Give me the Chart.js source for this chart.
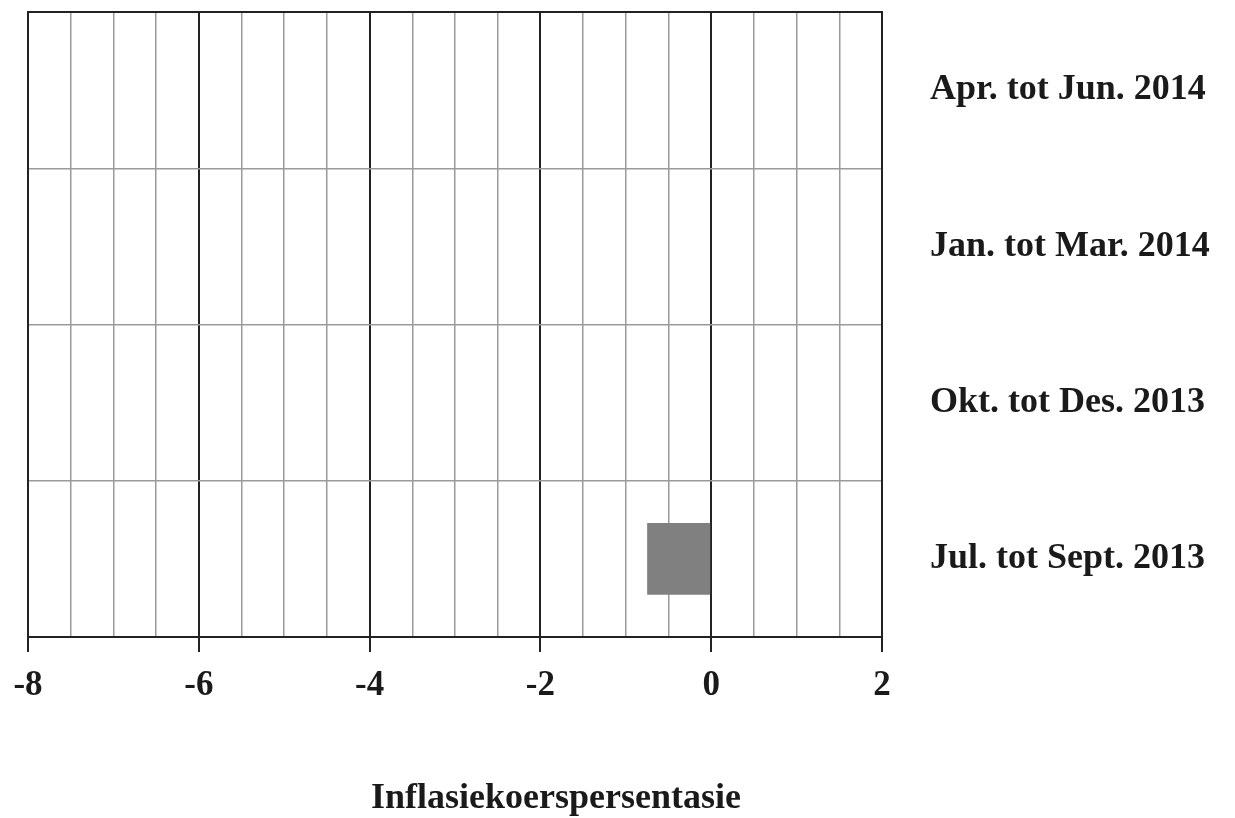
<!DOCTYPE html>
<html>
<head>
<meta charset="utf-8">
<script src="https://cdn.jsdelivr.net/npm/chart.js@4"></script>
<style>
  html, body { margin: 0; padding: 0; background: #fff; }
  #wrap { width: 1235px; height: 818px; }
</style>
</head>
<body>
<div id="wrap"><canvas id="inflChart" width="1235" height="818"></canvas></div>
<script>
// Data
const quarters = ['Apr. tot Jun. 2014', 'Jan. tot Mar. 2014', 'Okt. tot Des. 2013', 'Jul. tot Sept. 2013'];
const inflation = [0, 0, 0, -0.75];
const xMin = -8;
const xMax = 2;
const xStep = 0.5;
const axisTitle = 'Inflasiekoerspersentasie';

const serif = '"Liberation Serif", "Times New Roman", serif';

// frame round the plot area + the axis title
const framePlugin = {
    id: 'frame',
    afterDraw(chart) {
        const { ctx, chartArea } = chart;
        ctx.save();
        ctx.strokeStyle = '#222';
        ctx.lineWidth = 2;
        ctx.strokeRect(chartArea.left, chartArea.top, chartArea.right - chartArea.left, chartArea.bottom - chartArea.top);
        ctx.fillStyle = '#1a1a1a';
        ctx.font = 'bold 36px ' + serif;
        ctx.textAlign = 'center';
        ctx.textBaseline = 'middle';
        ctx.fillText(axisTitle, 556, 799);
        ctx.restore();
    }
};

const ctx = document.getElementById('inflChart').getContext('2d');
const inflChart = new Chart(ctx, {
    type: 'bar',
    data: {
        labels: quarters,
        datasets: [{
            data: inflation,
            backgroundColor: '#808080',
            borderWidth: 0,
            barPercentage: 0.46,
            categoryPercentage: 1.0
        }]
    },
    options: {
        indexAxis: 'y',
        responsive: false,
        animation: false,
        layout: { padding: { left: 28, top: 12, right: 0, bottom: 0 } },
        plugins: {
            legend: { display: false },
            tooltip: { enabled: false }
        },
        scales: {
            x: {
                min: xMin,
                max: xMax,
                ticks: {
                    stepSize: xStep,
                    autoSkip: false,
                    maxRotation: 0,
                    padding: 13,
                    color: '#1a1a1a',
                    font: { family: serif, size: 35, weight: 'bold' },
                    callback: (v) => (v % 2 === 0 ? String(v) : '')
                },
                grid: {
                    color: (c) => (c.tick && c.tick.value % 2 === 0 ? '#222' : '#9a9a9a'),
                    lineWidth: (c) => (c.tick && c.tick.value % 2 === 0 ? 2 : 1.5),
                    tickColor: (c) => (c.tick && c.tick.value % 2 === 0 ? '#222' : 'rgba(0,0,0,0)'),
                    tickLength: 15
                },
                border: { color: '#222', width: 2 },
                afterFit: (scale) => {
                    scale.height = 818 - 637;
                    scale.paddingLeft = 0;
                    scale.paddingRight = 0;
                }
            },
            y: {
                position: 'right',
                offset: true,
                ticks: {
                    padding: 48,
                    crossAlign: 'near',
                    color: '#1a1a1a',
                    font: { family: serif, size: 36, weight: 'bold' }
                },
                grid: {
                    offset: true,
                    color: '#9a9a9a',
                    lineWidth: 1.5,
                    drawTicks: false
                },
                border: { color: '#222', width: 2 },
                afterFit: (scale) => {
                    scale.width = 1235 - 882;
                    scale.paddingTop = 0;
                    scale.paddingBottom = 0;
                }
            }
        }
    },
    plugins: [framePlugin]
});
</script>
</body>
</html>
